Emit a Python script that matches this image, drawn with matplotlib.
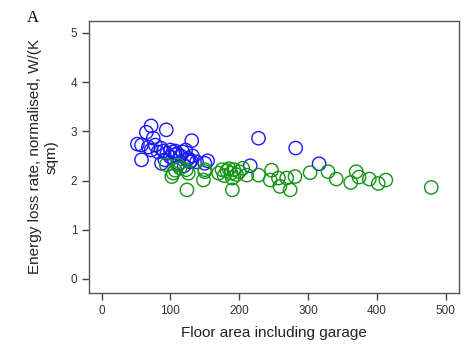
import matplotlib
matplotlib.use("Agg")
import matplotlib.pyplot as plt

# --- Data ---
blue_area = [52, 58, 58, 65, 72, 75, 94, 68, 72, 78, 82, 86, 90, 95, 100, 104,
             107, 87, 92, 100, 107, 110, 115, 118, 122, 126, 130, 132, 112, 120,
             124, 128, 138, 131, 150, 154, 216, 228, 282, 316]
blue_rate = [2.74, 2.72, 2.42, 2.98, 3.11, 2.86, 3.03, 2.68, 2.62, 2.72, 2.58,
             2.66, 2.60, 2.55, 2.62, 2.58, 2.52, 2.35, 2.42, 2.48, 2.60, 2.55,
             2.50, 2.58, 2.62, 2.45, 2.40, 2.50, 2.35, 2.30, 2.42, 2.38, 2.38,
             2.81, 2.35, 2.40, 2.30, 2.86, 2.66, 2.34]

green_area = [94, 102, 104, 107, 111, 114, 123, 124, 126, 148, 150, 150, 170,
              175, 178, 182, 185, 188, 190, 192, 196, 200, 205, 211, 190, 228,
              245, 247, 257, 259, 269, 274, 281, 303, 329, 341, 362, 370, 374,
              389, 402, 413, 479]
green_rate = [2.32, 2.08, 2.15, 2.21, 2.32, 2.25, 2.22, 1.81, 2.15, 2.01, 2.22,
              2.18, 2.15, 2.22, 2.10, 2.20, 2.24, 2.15, 2.05, 2.22, 2.12, 2.18,
              2.25, 2.11, 1.81, 2.11, 2.01, 2.21, 2.05, 1.88, 2.05, 1.81, 2.08,
              2.16, 2.18, 2.03, 1.96, 2.18, 2.07, 2.03, 1.94, 2.01, 1.86]

x_ticks = [0, 100, 200, 300, 400, 500]
y_ticks = [0, 1, 2, 3, 4, 5]

plt.rcParams['font.family'] = ['Liberation Sans', 'DejaVu Sans']

fig = plt.figure(figsize=(4.72, 3.51), dpi=100)
ax = fig.add_axes([0.189, 0.166, 0.783, 0.774])

ax.scatter(blue_area, blue_rate, s=92, facecolors='none', edgecolors='#1a1aff', linewidths=1.0)
ax.scatter(green_area, green_rate, s=92, facecolors='none', edgecolors='#139415', linewidths=1.0)

ax.set_xlim(-18, 519)
ax.set_ylim(-0.28, 5.24)
ax.set_xticks(x_ticks)
ax.set_yticks(y_ticks)

for side in ['left', 'bottom', 'top', 'right']:
    ax.spines[side].set_color('#555555')
    ax.spines[side].set_linewidth(1.0)
ax.tick_params(direction='out', length=5, width=1, color='#444444',
               labelsize=8.5, labelcolor='#333333')

ax.set_xlabel("Floor area including garage", fontsize=11, color='#222222', labelpad=7)
ax.set_ylabel("Energy loss rate, normalised, W/(K\nsqm)", fontsize=11,
              color='#222222', labelpad=9)

fig.text(0.07, 0.95, "A", family='Liberation Serif', fontsize=12, ha='center', va='center')

fig.savefig("out.png", dpi=100)
